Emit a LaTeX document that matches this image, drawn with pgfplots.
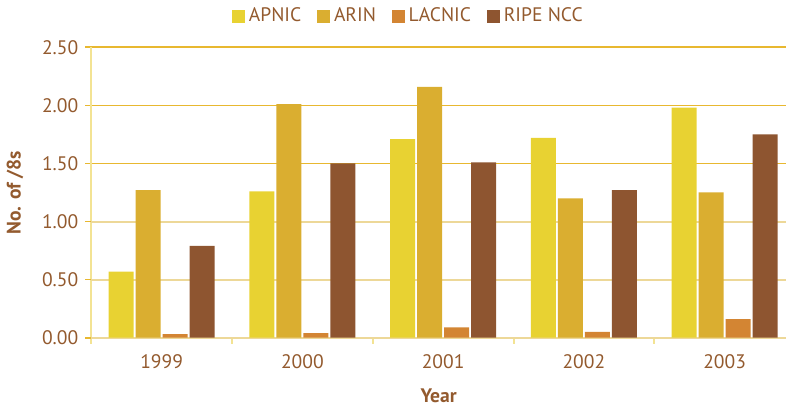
\documentclass[border=0pt]{standalone}
\usepackage{pgfplots}
\pgfplotsset{compat=1.18}
\usepackage{fontspec}
\setmainfont{PT Sans}
\definecolor{apnic}{HTML}{E8D232}
\definecolor{arin}{HTML}{DAAE30}
\definecolor{lacnic}{HTML}{D38533}
\definecolor{ripe}{HTML}{8E5530}
\definecolor{txt}{HTML}{935A2E}
\definecolor{gridgold}{HTML}{E8B830}
\definecolor{gridlight}{HTML}{EDD898}
\definecolor{axisline}{HTML}{F3E393}
\begin{document}
\begin{tikzpicture}
\begin{axis}[
  scale only axis,
  width=348pt, height=145.5pt,
  ybar=1pt, bar width=12.5pt,
  xmin=-0.5, xmax=4.436,
  ymin=0, ymax=2.5,
  xtick={0,1,2,3,4},
  xticklabels={1999,2000,2001,2002,2003},
  major x tick style={draw=none},
  minor xtick={-0.5,0.5,1.5,2.5,3.5},
  minor x tick style={draw=axisline, line width=1pt},
  minor tick length=3pt,
  ytick={1.5,2,2.5},
  extra y ticks={0,0.5,1},
  extra y tick style={grid style={draw=gridlight, line width=1pt}},
  ymajorgrids,
  grid style={draw=gridgold, line width=0.8pt},
  major tick length=3pt,
  tick align=outside,
  y tick style={draw=gridgold, line width=0.8pt},
  axis x line*=bottom, axis y line*=left,
  axis line style={draw=axisline, line width=1pt},
  separate axis lines,
  x axis line style={-}, y axis line style={-},
  yticklabel style={/pgf/number format/.cd, fixed, fixed zerofill, precision=2},
  /pgf/number format/assume math mode=true,
  tick label style={font=\fontsize{9.8}{11}\selectfont, text=txt},
  xticklabel style={yshift=-2pt},
  xlabel={\textbf{Year}},
  ylabel={\textbf{No. of /8s}},
  label style={font=\fontsize{9.8}{11}\selectfont, text=txt},
  xlabel style={yshift=-3pt},
  ylabel style={yshift=-3.5pt},
  legend columns=4,
  legend style={draw=none, fill=none, at={(0.458,1.0)}, anchor=south,
    yshift=7pt, font=\fontsize{9.8}{11}\selectfont, text=txt,
    /tikz/every even column/.append style={column sep=6pt}},
  legend image code/.code={\fill[#1] (0pt,-3.2pt) rectangle (6.4pt,3.2pt);},
]
\addplot[fill=apnic, draw=none] coordinates {(0,0.57) (1,1.26) (2,1.71) (3,1.72) (4,1.98)};
\addplot[fill=arin, draw=none] coordinates {(0,1.27) (1,2.01) (2,2.16) (3,1.20) (4,1.25)};
\addplot[fill=lacnic, draw=none] coordinates {(0,0.03) (1,0.04) (2,0.09) (3,0.05) (4,0.16)};
\addplot[fill=ripe, draw=none] coordinates {(0,0.79) (1,1.50) (2,1.51) (3,1.27) (4,1.75)};
\legend{APNIC,ARIN,LACNIC,RIPE NCC}
\end{axis}
\end{tikzpicture}
\end{document}
